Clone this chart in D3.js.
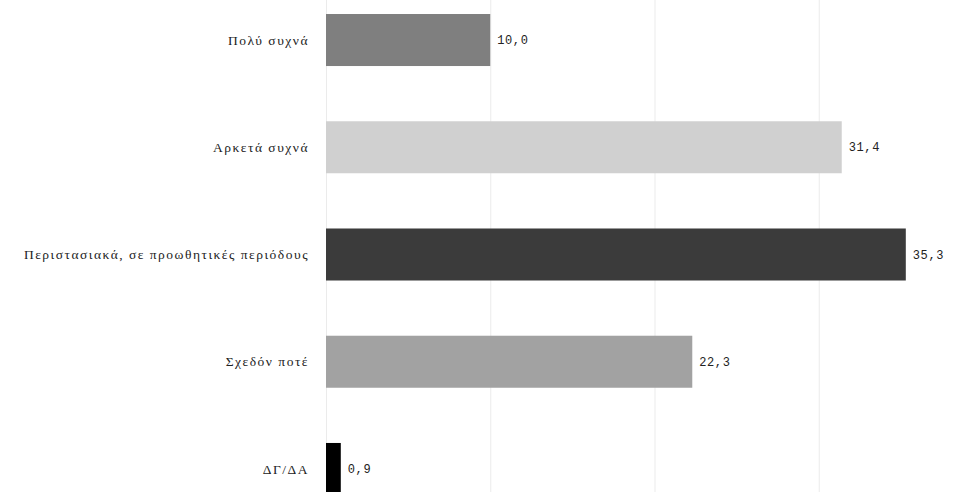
<!DOCTYPE html>
<html><head><meta charset="utf-8">
<script src="https://cdn.jsdelivr.net/npm/d3@7"></script>
<style>body{margin:0;background:#fff}svg{display:block}</style>
</head><body><svg id="c" width="974" height="492"></svg>
<script>
const categories = ["Πολύ συχνά","Αρκετά συχνά","Περιστασιακά, σε προωθητικές περιόδους","Σχεδόν ποτέ","ΔΓ/ΔΑ"];
const values = [10.0, 31.4, 35.3, 22.3, 0.9];
const valueLabels = ["10,0","31,4","35,3","22,3","0,9"];
const colors = ["#7f7f7f","#d0d0d0","#3b3b3b","#a2a2a2","#000000"];
const gridTicks = [0,10,20,30,40];

const svg = d3.select("#c");
const x = d3.scaleLinear().domain([0,40]).range([326, 983]);
const y = d3.scaleBand().domain(categories).range([-13.6, 522.6]).paddingInner(0.515).paddingOuter(0.2575);

svg.append("g").selectAll("line").data(gridTicks).join("line")
  .attr("x1", d=>x(d)+0.5).attr("x2", d=>x(d)+0.5)
  .attr("y1", 0).attr("y2", 492)
  .attr("stroke", "#ebebeb").attr("stroke-width", 1);

svg.append("g").selectAll("rect").data(categories).join("rect")
  .attr("x", x(0)).attr("y", d=>y(d))
  .attr("width", (d,i)=>x(values[i])-x(0))
  .attr("height", y.bandwidth())
  .attr("fill", (d,i)=>colors[i]);

svg.append("g").selectAll("text").data(categories).join("text")
  .attr("x", x(0)-17).attr("y", d=>y(d)+y.bandwidth()/2)
  .attr("dy","0.35em").attr("text-anchor","end")
  .attr("font-family","Liberation Serif, serif").attr("font-size", 13.5)
  .attr("letter-spacing", 1.5)
  .attr("fill","#222").text(d=>d);

svg.append("g").selectAll("text").data(categories).join("text")
  .attr("x", (d,i)=>x(values[i])+7).attr("y", d=>y(d)+y.bandwidth()/2)
  .attr("dy","0.35em")
  .attr("font-family","Liberation Mono, monospace").attr("font-size", 12)
  .attr("letter-spacing", 0.6)
  .attr("fill","#222").text((d,i)=>valueLabels[i]);
</script></body></html>
